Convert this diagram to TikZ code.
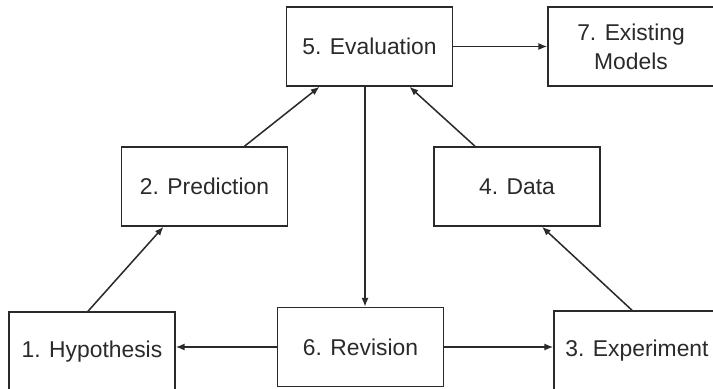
\documentclass[tikz,border=0pt]{standalone}
\usepackage{fontspec}
\setmainfont{Liberation Sans}
\usepackage{tikz}
\usetikzlibrary{arrows.meta,positioning}
\definecolor{Ink}{HTML}{2A2A2A}
\tikzset{
stagebox/.style={draw=Ink, line width=1.3pt, fill=white, text=Ink, align=center, minimum width=49.8mm, minimum height=23.7mm, inner sep=2pt},
stagearrow/.style={->, line width=1.3pt, draw=Ink}
}

\begin{document}
\begin{tikzpicture}[font=\fontsize{19.5}{25}\selectfont, >={Latex[length=7.5pt,width=6pt]}, x=0.3mm, y=-0.3mm]
  \useasboundingbox (0,0) rectangle (713,389);
  \node[stagebox] (hyp) at (92,351.5) {1. Hypothesis};
  \node[stagebox] (pred) at (204.5,186.5) {2. Prediction};
  \node[stagebox] (expt) at (637,350.5) {3. Experiment};
  \node[stagebox] (data) at (517,186.5) {4. Data};
  \node[stagebox] (eval) at (369.5,46.5) {5. Evaluation};
  \node[stagebox] (rev) at (360.5,347) {6. Revision};
  \node[stagebox] (models) at (631,46.5) {7. Existing\\Models};
  \draw[stagearrow] ([xshift=-1.2mm]hyp.north) -- ([xshift=-12.3mm]pred.south);
  \draw[stagearrow] ([xshift=12mm]pred.north) -- ([xshift=-15mm]eval.south);
  \draw[stagearrow] ([xshift=-1.5mm]expt.north) -- ([xshift=7.5mm]data.south);
  \draw[stagearrow] ([xshift=-12.6mm]data.north) -- ([xshift=12mm]eval.south);
  \draw[stagearrow] ([xshift=-1.35mm]eval.south) -- ([xshift=-1.35mm]eval.south |- rev.north);
  \draw[stagearrow] (eval.east) -- (eval.east -| models.west);
  \draw[stagearrow] (rev.west) -- (rev.west -| hyp.east);
  \draw[stagearrow] (rev.east) -- (rev.east -| expt.west);
\end{tikzpicture}
\end{document}
